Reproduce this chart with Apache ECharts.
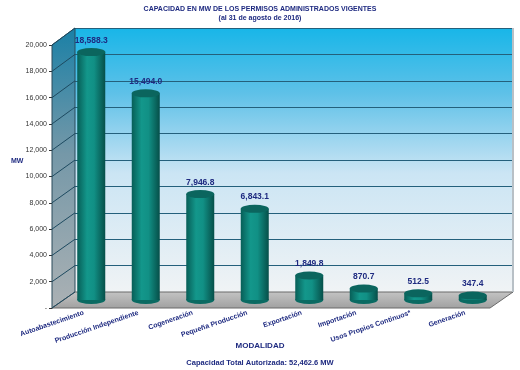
<!DOCTYPE html>
<html><head><meta charset="utf-8">
<script src="https://cdn.jsdelivr.net/npm/echarts@6/dist/echarts.min.js"></script>
<style>html,body{margin:0;padding:0;background:#fff}#c{width:520px;height:370px}</style>
</head><body><div id="c"></div>
<script>
var categories = ['Autoabastecimiento','Producción Independiente','Cogeneración','Pequeña Producción','Exportación','Importación','Usos Propios Continuos*','Generación'];
var values = [18588.3, 15494.0, 7946.8, 6843.1, 1849.8, 870.7, 512.5, 347.4];
var yTicks = [0,2000,4000,6000,8000,10000,12000,14000,16000,18000,20000];
var titleText = 'CAPACIDAD EN MW DE LOS PERMISOS ADMINISTRADOS VIGENTES';
var subtitleText = '(al 31 de agosto de 2016)';
var totalText = 'Capacidad Total Autorizada: 52,462.6 MW';

var navy = '#1e2a80';
var fmt = function(v){ return v.toLocaleString('en-US',{minimumFractionDigits:1,maximumFractionDigits:1}); };
var fmtAxis = function(v){ return v === 0 ? '-' : v.toLocaleString('en-US'); };

// side wall gridlines (decoration between front edge and back wall)
var sideLines = [];
yTicks.forEach(function(t){
  var yf = 308 - t/20000*263, yb = 292 - t/20000*264;
  sideLines.push({type:'line', z:3, shape:{x1:52,y1:yf,x2:75,y2:yb}, style:{stroke:'#1d4a60',lineWidth:1}});
});

var chart = echarts.init(document.getElementById('c'));
chart.setOption({
  animation:false,
  title:[
    {text:titleText, left:'center', top:1, textStyle:{fontFamily:'Liberation Sans',fontSize:7,fontWeight:'bold',color:navy}},
    {text:subtitleText, left:'center', top:10, textStyle:{fontFamily:'Liberation Sans',fontSize:7,fontWeight:'bold',color:navy}},
    {text:'MW', left:6, top:153, textStyle:{fontFamily:'Liberation Sans',fontSize:7,fontWeight:'bold',color:navy}},
    {text:'MODALIDAD', left:'center', top:337, textStyle:{fontFamily:'Liberation Sans',fontSize:8,fontWeight:'bold',color:navy}},
    {text:totalText, left:'center', top:354, textStyle:{fontFamily:'Liberation Sans',fontSize:7.5,fontWeight:'bold',color:navy}}
  ],
  grid:[
    {left:75, right:7, top:28, bottom:78, show:true, borderWidth:0,
     backgroundColor:{type:'linear',x:0,y:0,x2:0,y2:1,colorStops:[{offset:0,color:'#18b6e8'},{offset:0.25,color:'#5fc1e8'},{offset:0.55,color:'#cbe5f4'},{offset:1,color:'#f0f3f5'}]}},
    {left:52, width:1, top:45, bottom:62},
    {left:64, right:20, top:33, bottom:70}
  ],
  xAxis:[
    {gridIndex:0, type:'category', data:categories, show:false},
    {gridIndex:1, type:'category', data:[''], show:false},
    {gridIndex:2, type:'category', data:categories, axisLine:{show:false}, axisTick:{show:false},
     axisLabel:{rotate:19, margin:10, padding:[0,8,0,0], fontFamily:'Liberation Sans', fontSize:7, fontWeight:'bold', color:navy, interval:0}}
  ],
  yAxis:[
    {gridIndex:0, type:'value', min:0, max:20000, interval:2000, axisLabel:{show:false}, axisLine:{show:false}, axisTick:{show:false},
     splitLine:{lineStyle:{color:'#24607c', width:1.2}}},
    {gridIndex:1, type:'value', min:0, max:20000, interval:2000, splitLine:{show:false},
     axisLine:{show:true, lineStyle:{color:'#333', width:1}}, axisTick:{show:true, length:3, lineStyle:{color:'#333'}},
     axisLabel:{formatter:fmtAxis, fontFamily:'Liberation Sans', fontSize:7, color:'#333', margin:5}},
    {gridIndex:2, type:'value', min:0, max:20000, interval:2000, show:false, splitLine:{show:false}}
  ],
  graphic:[
    {type:'polygon', z:1, shape:{points:[[52,45],[75,28],[75,292],[52,308]]},
     style:{fill:{type:'linear',x:0,y:0,x2:0,y2:1,colorStops:[{offset:0,color:'#1a80a6'},{offset:0.45,color:'#7598a8'},{offset:1,color:'#abb1b4'}]}, stroke:'#2a4a5a', lineWidth:1}},
    {type:'polygon', z:1, shape:{points:[[75,292],[513,292],[490,308],[52,308]]},
     style:{fill:{type:'linear',x:0,y:0,x2:0,y2:1,colorStops:[{offset:0,color:'#c4c4c4'},{offset:1,color:'#a0a0a0'}]}, stroke:'#6a6a6a', lineWidth:1}},
    {type:'rect', z:1, shape:{x:512,y:28,width:2,height:264}, style:{fill:'#b8c0c6'}}
  ].concat(sideLines),
  series:[
    {type:'bar', xAxisIndex:2, yAxisIndex:2, data:values, barWidth:28, z:4,
     itemStyle:{color:{type:'linear',x:0,y:0,x2:1,y2:0,colorStops:[{offset:0,color:'#075e57'},{offset:0.35,color:'#13978b'},{offset:0.6,color:'#119085'},{offset:1,color:'#064f49'}]}}},
    {type:'pictorialBar', xAxisIndex:2, yAxisIndex:2, data:values, symbol:'circle', symbolSize:[28,8], symbolPosition:'start', symbolOffset:[0,'50%'], z:3,
     itemStyle:{color:'#0a6a62'}},
    {type:'pictorialBar', xAxisIndex:2, yAxisIndex:2, data:values, symbol:'circle', symbolSize:[28,8], symbolPosition:'end', symbolOffset:[0,'-50%'], z:5,
     itemStyle:{color:'#0b655e', borderColor:'#2a9e94', borderWidth:0.8},
     label:{show:true, position:'top', distance:3, formatter:function(p){return fmt(p.value);}, fontFamily:'Liberation Sans', fontSize:8.5, fontWeight:'bold', color:navy}}
  ]
});
</script></body></html>
